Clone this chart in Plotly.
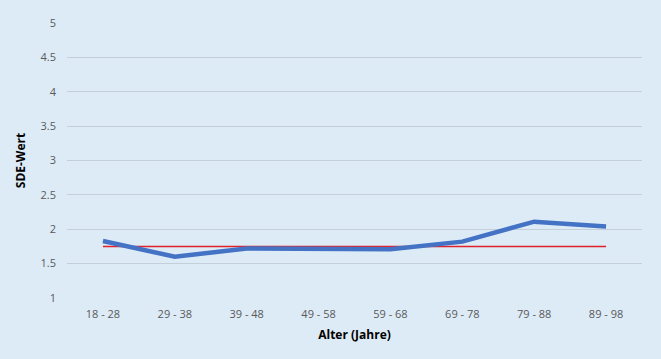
import plotly.graph_objects as go

categories = ["18 - 28", "29 - 38", "39 - 48", "49 - 58", "59 - 68", "69 - 78", "79 - 88", "89 - 98"]
sde_values = [1.83, 1.60, 1.72, 1.72, 1.71, 1.82, 2.11, 2.04]
reference_values = [1.75] * 8

fig = go.Figure()
fig.add_trace(go.Scatter(x=categories, y=reference_values, mode="lines",
                         line=dict(color="#E0232B", width=1.5), showlegend=False))
fig.add_trace(go.Scatter(x=categories, y=sde_values, mode="lines",
                         line=dict(color="#4472C4", width=4.5), showlegend=False))

bg = "#DDEBF7"
fig.update_layout(
    width=661, height=359,
    paper_bgcolor=bg, plot_bgcolor=bg,
    margin=dict(l=67, r=19, t=23, b=61),
    font=dict(family="Open Sans", size=11, color="#595959"),
    xaxis=dict(showgrid=False, showline=False, zeroline=False, ticks="",
               ticklabelstandoff=8,
               title=dict(text="<b>Alter (Jahre)</b>", font=dict(size=12, color="#000000"), standoff=10),
               range=[-0.5, 7.5]),
    yaxis=dict(range=[1, 5], dtick=0.5, showgrid=True, gridcolor="#C5CFDA", gridwidth=1,
               zeroline=False, showline=False, ticks="", ticklabelstandoff=10,
               title=dict(text="<b>SDE-Wert</b>", font=dict(size=12, color="#000000"), standoff=12)),
)
fig.write_html("out.html", config={"displayModeBar": False},
               post_script="document.body.style.margin='0';document.body.style.background='" + bg + "';")
